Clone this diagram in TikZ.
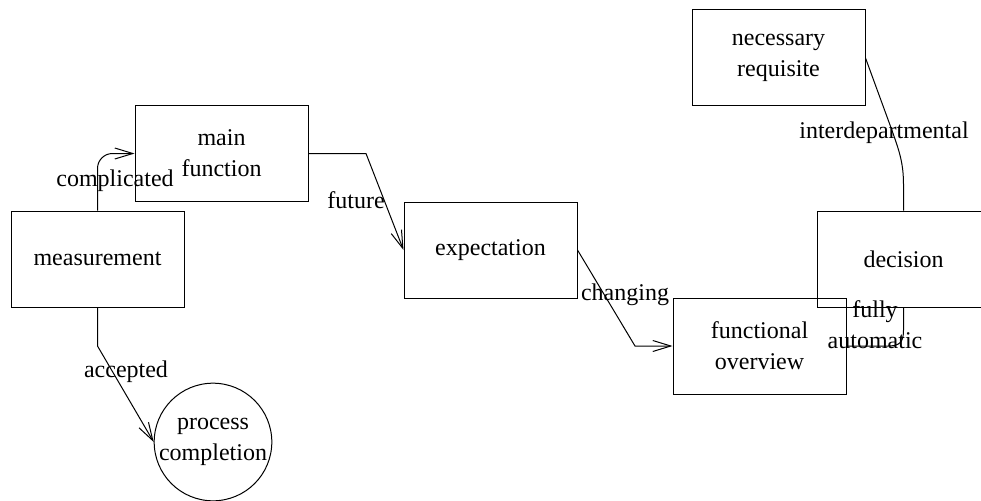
\documentclass[tikz,border=0pt]{standalone}
\usepackage{fontspec}
\setmainfont{Liberation Serif}
\usetikzlibrary{arrows.meta}
\begin{document}
\begin{tikzpicture}[x=1pt,y=-1pt,line width=1pt,
  every node/.style={font=\fontsize{24}{31}\selectfont, align=center, inner sep=0pt},
  box/.style={draw, minimum width=173pt, minimum height=96pt},
  roundbox/.style={draw, circle, minimum size=116pt},
  lbl/.style={},
  arr/.style={-{Straight Barb[length=18pt,width=11pt]}}]
\clip (0,0) rectangle (981,500);
\node[box] (meas) at (97.5,259) {measurement};
\node[box] (main) at (221.5,153.5) {main\\function};
\node[box] (exp) at (490.5,250) {expectation};
\node[box] (fo) at (759.5,346) {functional\\overview};
\node[box] (dec) at (903.5,259) {decision};
\node[box] (nr) at (778.5,58) {necessary\\requisite};
\node[roundbox] (pc) at (213,442) {process\\completion};
\coordinate (c2) at (366,153.5);
\coordinate (c3) at (635,346);
\coordinate (c4) at (97.5,346);
\draw[arr, rounded corners=15pt] (meas.north) |- (main.west);
\draw[arr] (main.east) -- (c2) -- (exp.west);
\draw[arr] (exp.east) -- (c3) -- (fo.west);
\draw[arr] (meas.south) -- (c4) -- (pc.west);
\draw (nr.east) -- (890,125) .. controls (899,150) and (903.5,162) .. (903.5,185) -- (dec.north);
\draw (dec.south) -- (903.5,330) .. controls (903.5,342) and (900,346) .. (888,346) -- (fo.east);
\node[lbl] (lc) at (115,181) {complicated};
\node[lbl] (lf) at (356,200) {future};
\node[lbl] (lch) at (625,295) {changing};
\node[lbl] (la) at (126,372) {accepted};
\node[lbl] (li) at (884,133) {interdepartmental};
\node[lbl] (lfa) at (875,325) {fully\\automatic};
\end{tikzpicture}
\end{document}
